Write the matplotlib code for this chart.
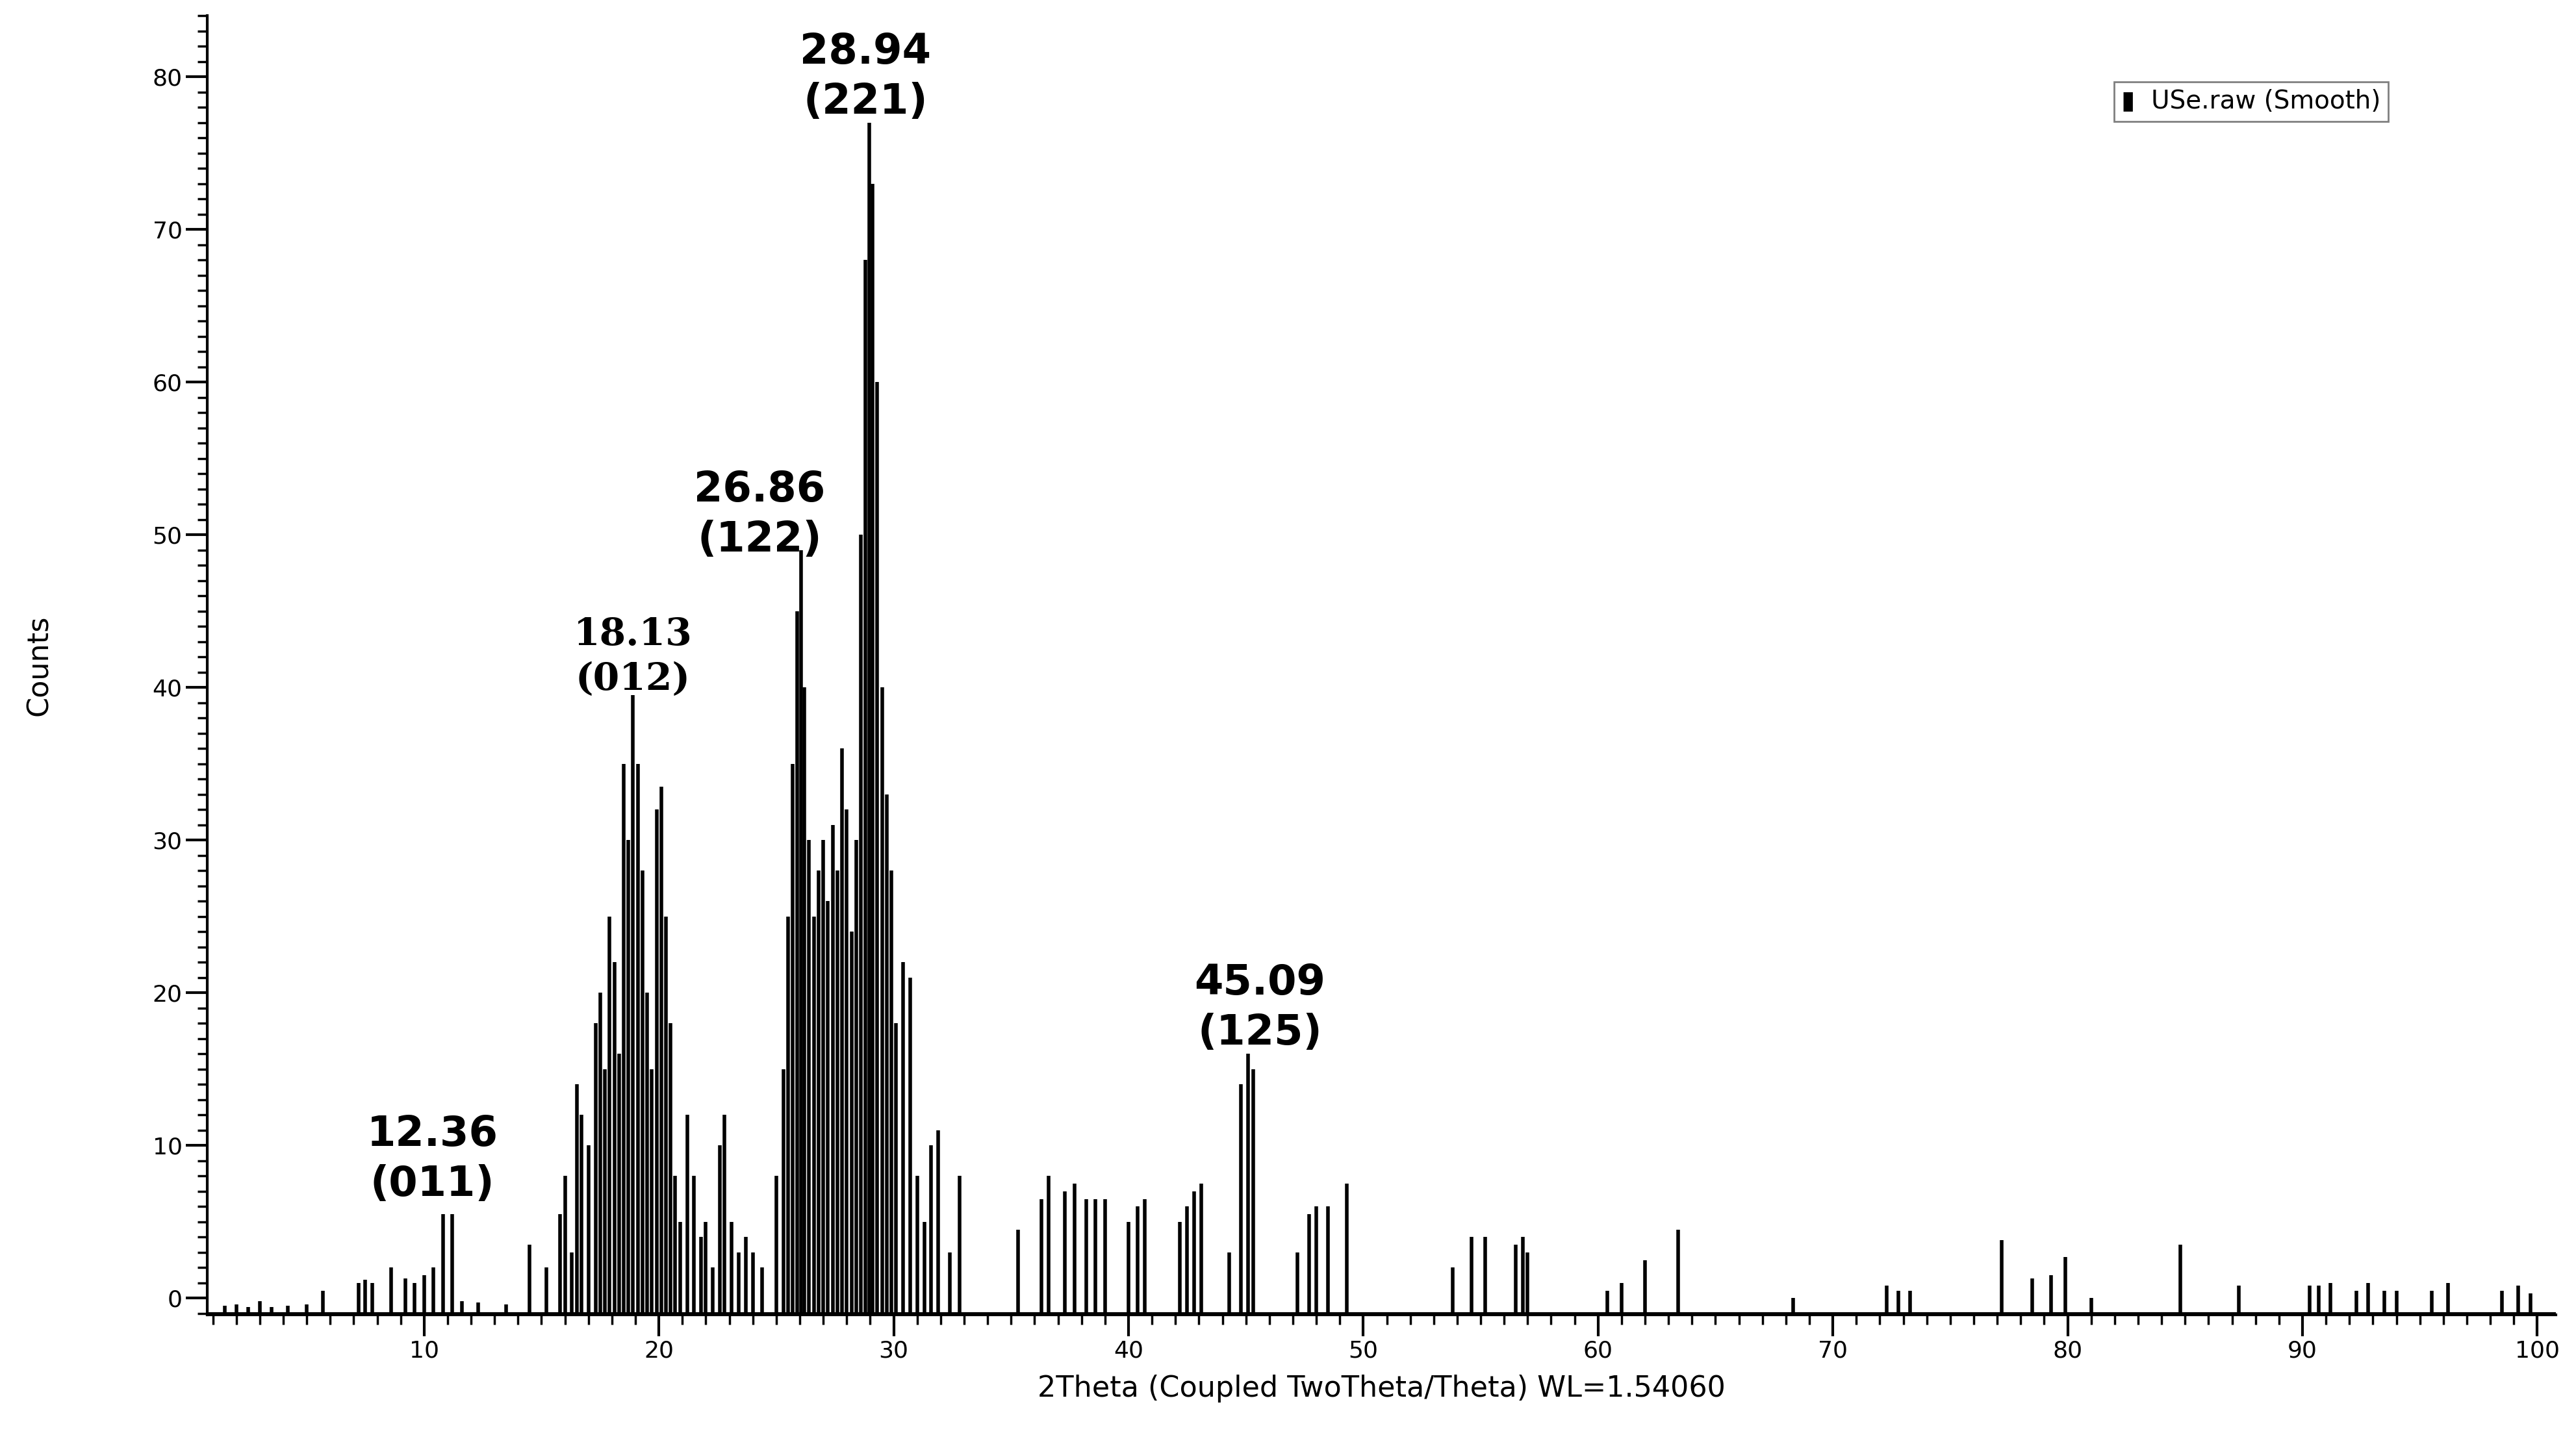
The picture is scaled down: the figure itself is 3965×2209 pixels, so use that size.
import numpy as np
import matplotlib.pyplot as plt
from matplotlib.ticker import MultipleLocator

two_theta = [1.5, 2.0, 2.5, 3.0, 3.5, 4.2, 5.0, 5.7, 7.2, 7.5, 7.8, 8.6, 9.2, 9.6, 10.0, 10.4,
             10.8, 11.2, 11.6, 12.3, 13.5, 14.5, 15.2, 15.8, 16.0, 16.3, 16.5, 16.7, 17.0,
             17.3, 17.5, 17.7, 17.9, 18.1, 18.3, 18.5, 18.7, 18.9, 19.1, 19.3, 19.5, 19.7,
             19.9, 20.1, 20.3, 20.5, 20.7, 20.9, 21.2, 21.5, 21.8, 22.0, 22.3, 22.6, 22.8,
             23.1, 23.4, 23.7, 24.0, 24.4, 25.0, 25.3, 25.5, 25.7, 25.9, 26.05, 26.2, 26.4,
             26.6, 26.8, 27.0, 27.2, 27.4, 27.6, 27.8, 28.0, 28.2, 28.4, 28.6, 28.8, 28.95,
             29.1, 29.3, 29.5, 29.7, 29.9, 30.1, 30.4, 30.7, 31.0, 31.3, 31.6, 31.9, 32.4,
             32.8, 35.3, 36.3, 36.6, 37.3, 37.7, 38.2, 38.6, 39.0, 40.0, 40.4, 40.7, 42.2,
             42.5, 42.8, 43.1, 44.3, 44.8, 45.1, 45.3, 47.2, 47.7, 48.0, 48.5, 49.3, 53.8,
             54.6, 55.2, 56.5, 56.8, 57.0, 60.4, 61.0, 62.0, 63.4, 68.3, 72.3, 72.8, 73.3,
             77.2, 78.5, 79.3, 79.9, 81.0, 84.8, 87.3, 90.3, 90.7, 91.2, 92.3, 92.8, 93.5,
             94.0, 95.5, 96.2, 98.5, 99.2, 99.7]
counts = [-0.5, -0.4, -0.6, -0.2, -0.6, -0.5, -0.4, 0.5, 1.0, 1.2, 1.0, 2.0, 1.3, 1.0, 1.5, 2.0,
          5.5, 5.5, -0.2, -0.3, -0.4, 3.5, 2.0, 5.5, 8.0, 3.0, 14.0, 12.0, 10.0,
          18.0, 20.0, 15.0, 25.0, 22.0, 16.0, 35.0, 30.0, 39.5, 35.0, 28.0, 20.0, 15.0,
          32.0, 33.5, 25.0, 18.0, 8.0, 5.0, 12.0, 8.0, 4.0, 5.0, 2.0, 10.0, 12.0,
          5.0, 3.0, 4.0, 3.0, 2.0, 8.0, 15.0, 25.0, 35.0, 45.0, 49.0, 40.0, 30.0,
          25.0, 28.0, 30.0, 26.0, 31.0, 28.0, 36.0, 32.0, 24.0, 30.0, 50.0, 68.0, 77.0,
          73.0, 60.0, 40.0, 33.0, 28.0, 18.0, 22.0, 21.0, 8.0, 5.0, 10.0, 11.0, 3.0,
          8.0, 4.5, 6.5, 8.0, 7.0, 7.5, 6.5, 6.5, 6.5, 5.0, 6.0, 6.5, 5.0,
          6.0, 7.0, 7.5, 3.0, 14.0, 16.0, 15.0, 3.0, 5.5, 6.0, 6.0, 7.5, 2.0,
          4.0, 4.0, 3.5, 4.0, 3.0, 0.5, 1.0, 2.5, 4.5, 0.0, 0.8, 0.5, 0.5,
          3.8, 1.3, 1.5, 2.7, 0.0, 3.5, 0.8, 0.8, 0.8, 1.0, 0.5, 1.0, 0.5,
          0.5, 0.5, 1.0, 0.5, 0.8, 0.3]

peak_x = [12.36, 18.13, 26.86, 28.94, 45.09]
peak_hkl = ["(011)", "(012)", "(122)", "(221)", "(125)"]
# label anchor points (data coords) above each peak
label_pos = [(10.35, 9.1), (18.9, 42.0), (24.3, 51.3), (28.8, 80.0), (45.6, 19.0)]

baseline = -1.0

fig = plt.figure(figsize=(39.66, 22.09), dpi=100)
ax = fig.add_axes([0.0804, 0.0837, 0.9116, 0.9053])

ax.vlines(two_theta, baseline, counts, color="black", linewidth=4)
ax.axhline(baseline, color="black", linewidth=3)

ax.set_xlim(0.76, 100.8)
ax.set_ylim(-1.1, 84)
for s in ["top", "right"]:
    ax.spines[s].set_visible(False)
ax.spines["left"].set_linewidth(3)
ax.spines["bottom"].set_linewidth(3)

ax.xaxis.set_major_locator(MultipleLocator(10))
ax.xaxis.set_minor_locator(MultipleLocator(1))
ax.yaxis.set_major_locator(MultipleLocator(10))
ax.yaxis.set_minor_locator(MultipleLocator(1))
ax.tick_params(axis="both", which="major", length=24, width=3, labelsize=26)
ax.tick_params(axis="both", which="minor", length=11, width=2.5)
ax.set_xticks(range(10, 101, 10))
ax.set_yticks(range(0, 81, 10))

ax.set_xlabel("2Theta (Coupled TwoTheta/Theta) WL=1.54060", fontsize=32, labelpad=14)
ax.set_ylabel("Counts", fontsize=32, labelpad=110)

for px, hkl, (lx, ly) in zip(peak_x, peak_hkl, label_pos):
    fam = "DejaVu Serif" if hkl == "(012)" else "DejaVu Sans"
    ax.text(lx, ly, f"{px:.2f}\n{hkl}", ha="center", va="center", fontsize=46 if fam == "DejaVu Sans" else 42,
            fontweight="bold", family=fam, linespacing=1.3)

ax.text(0.815, 0.934, "\u25AE  USe.raw (Smooth)", transform=ax.transAxes, fontsize=28,
        va="center", ha="left",
        bbox=dict(boxstyle="square,pad=0.3", facecolor="white", edgecolor="gray", linewidth=2))

fig.savefig("out.png", dpi=100)
